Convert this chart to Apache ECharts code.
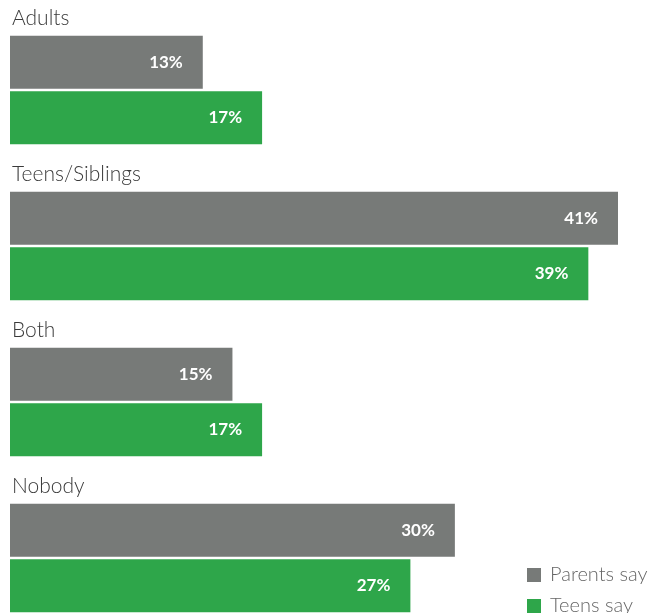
<!DOCTYPE html>
<html>
<head>
<meta charset="utf-8">
<script src="https://cdn.jsdelivr.net/npm/echarts@6/dist/echarts.min.js"></script>
<style>html,body{margin:0;padding:0;background:#fff}#c{width:650px;height:613px}</style>
</head>
<body>
<div id="c"></div>
<script>
const categories = ['Adults', 'Teens/Siblings', 'Both', 'Nobody'];
const parentsSay = [13, 41, 15, 30];
const teensSay = [17, 39, 17, 27];
const seriesNames = ['Parents say', 'Teens say'];

const chart = echarts.init(document.getElementById('c'));
const valueLabel = {
  show: true, position: 'insideRight', distance: 20,
  formatter: '{c}%', color: '#fff', fontFamily: 'Lato', fontWeight: 'bold', fontSize: 17
};
chart.setOption({
  animation: false,
  grid: { left: 10, top: 12, width: 608, height: 624, containLabel: false, outerBoundsMode: 'none' },
  xAxis: { type: 'value', min: 0, max: 41, show: false },
  yAxis: {
    type: 'category', data: categories, inverse: true,
    axisLine: { show: false }, axisTick: { show: false }, splitLine: { show: false },
    axisLabel: {
      inside: true, margin: 2, align: 'left', verticalAlign: 'bottom',
      padding: [0, 0, 61, 0],
      color: '#3a3a3a', fontFamily: 'Lato', fontWeight: 300, fontSize: 21
    }
  },
  legend: {
    type: 'plain', orient: 'vertical', left: 527, top: 565, width: 123, height: 80, padding: 0,
    itemWidth: 14, itemHeight: 14, itemGap: 11, icon: 'rect',
    textStyle: { color: '#666', fontFamily: 'Lato', fontWeight: 300, fontSize: 20, lineHeight: 14, padding: [0, 0, 0, 4] },
    data: seriesNames
  },
  series: [
    { name: seriesNames[0], type: 'bar', data: parentsSay, barWidth: 53, barGap: '5%',
      itemStyle: { color: '#777a78' }, label: valueLabel },
    { name: seriesNames[1], type: 'bar', data: teensSay, barWidth: 53, barGap: '5%',
      itemStyle: { color: '#2ea64a' }, label: valueLabel }
  ]
});
</script>
</body>
</html>
